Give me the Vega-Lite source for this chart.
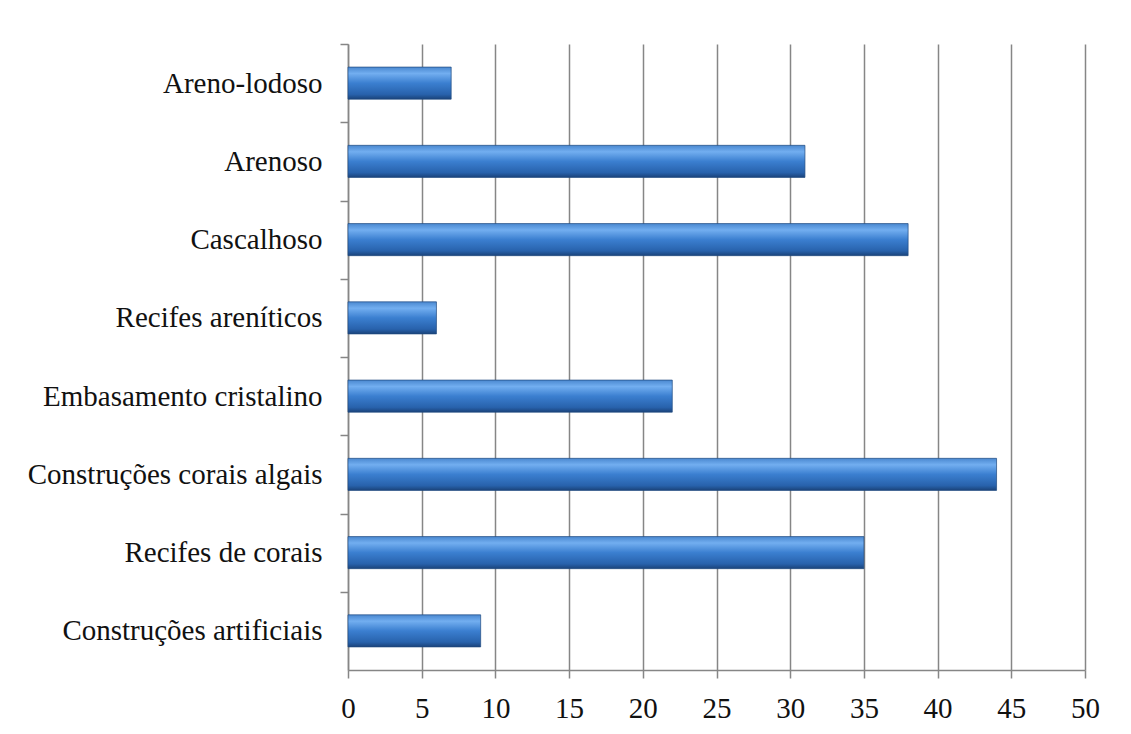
{
  "$schema": "https://vega.github.io/schema/vega-lite/v6.json",
  "autosize": {"type": "none"},
  "width": 737,
  "height": 626,
  "padding": {"left": 348, "top": 44, "right": 46, "bottom": 64},
  "background": "white",
  "data": {
    "values": [
      {"substrato": "Areno-lodoso", "valor": 7},
      {"substrato": "Arenoso", "valor": 31},
      {"substrato": "Cascalhoso", "valor": 38},
      {"substrato": "Recifes areníticos", "valor": 6},
      {"substrato": "Embasamento cristalino", "valor": 22},
      {"substrato": "Construções corais algais", "valor": 44},
      {"substrato": "Recifes de corais", "valor": 35},
      {"substrato": "Construções artificiais", "valor": 9}
    ]
  },
  "mark": {
    "type": "bar",
    "color": {
      "gradient": "linear",
      "x1": 0, "y1": 0, "x2": 0, "y2": 1,
      "stops": [
        {"offset": 0, "color": "#4a88d0"},
        {"offset": 0.2, "color": "#72aef0"},
        {"offset": 0.5, "color": "#3b7fd0"},
        {"offset": 0.85, "color": "#2862ac"},
        {"offset": 1, "color": "#1a437a"}
      ]
    },
    "stroke": "#1f4a80",
    "strokeWidth": 1,
    "strokeOpacity": 0.7
  },
  "encoding": {
    "y": {
      "field": "substrato",
      "type": "nominal",
      "sort": null,
      "title": null,
      "scale": {"paddingInner": 0.59, "paddingOuter": 0.295},
      "axis": {
        "tickOffset": -39.125,
        "labelOffset": 39.125,
        "tickSize": 8,
        "tickColor": "#868686",
        "tickWidth": 1.5,
        "domainColor": "#868686",
        "domainWidth": 1.5,
        "labelFont": "Liberation Serif",
        "labelFontSize": 29,
        "labelColor": "#111111",
        "labelPadding": 18,
        "labelLimit": 400
      }
    },
    "x": {
      "field": "valor",
      "type": "quantitative",
      "title": null,
      "scale": {"domain": [0, 50], "nice": false},
      "axis": {
        "values": [0, 5, 10, 15, 20, 25, 30, 35, 40, 45, 50],
        "grid": true,
        "gridColor": "#868686",
        "gridWidth": 1.5,
        "tickSize": 8,
        "tickColor": "#868686",
        "tickWidth": 1.5,
        "domainColor": "#868686",
        "domainWidth": 1.5,
        "labelFont": "Liberation Serif",
        "labelFontSize": 29,
        "labelColor": "#111111",
        "labelPadding": 16,
        "labelFlush": false
      }
    }
  },
  "config": {"view": {"stroke": null}}
}
